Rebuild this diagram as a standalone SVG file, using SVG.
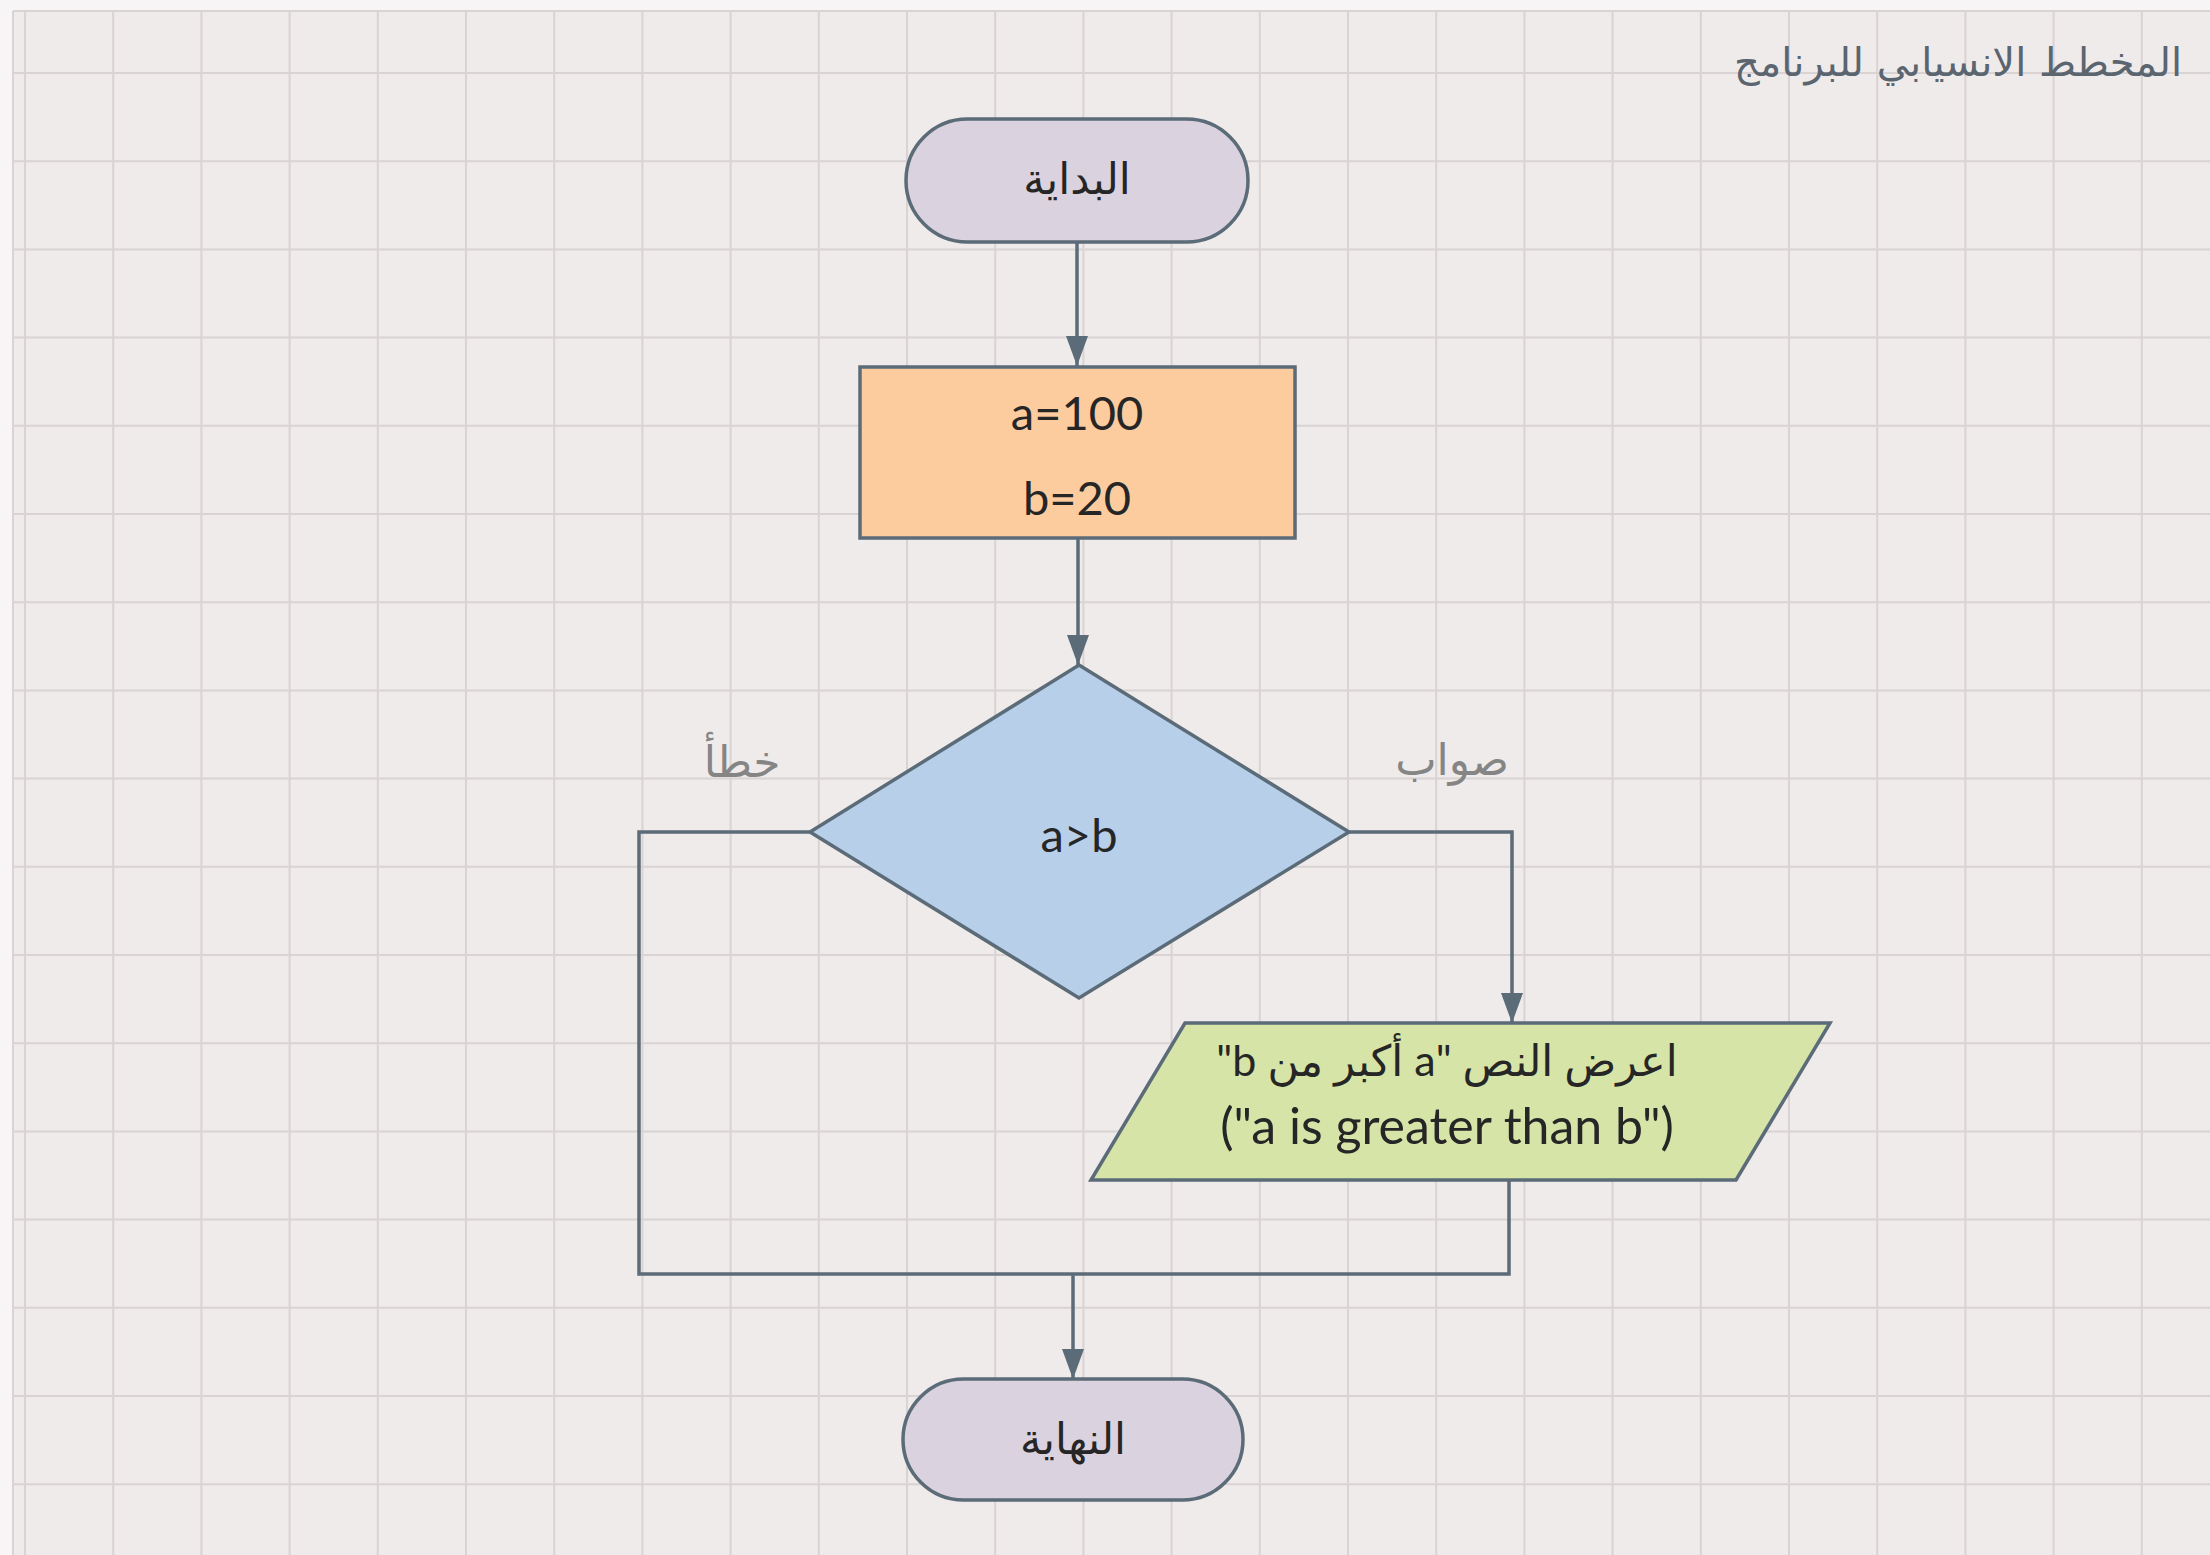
<svg xmlns="http://www.w3.org/2000/svg" width="2210" height="1555" viewBox="0 0 2210 1555">
<style>
.grid{stroke:#d9d3d3;stroke-width:2;fill:none}
.node{stroke:#5b6b78;stroke-width:3.5}
.conn{stroke:#5b6b78;stroke-width:3.5;fill:none}
.lat{font-family:Lato,"Liberation Sans","DejaVu Sans",sans-serif;fill:#262626;text-anchor:middle}
.ar{font-family:"DejaVu Sans","Noto Sans",sans-serif;fill:#262626;text-anchor:middle;direction:rtl;unicode-bidi:embed}
.lbl{font-family:"DejaVu Sans","Noto Sans",sans-serif;fill:#858585;text-anchor:middle;font-size:44px;direction:rtl;unicode-bidi:embed}
</style>
<defs>
<marker id="arr" markerUnits="userSpaceOnUse" markerWidth="32" markerHeight="22" refX="30" refY="11" orient="auto">
<path d="M0,0 L30,11 L0,22 Z" fill="#5b6b78"/>
</marker>
</defs>
<rect x="0" y="0" width="2210" height="1555" fill="#f7f5f5"/>
<rect x="13" y="11" width="2197" height="1544" fill="#efebea"/>
<g id="grid">
<path class="grid" d="M13,11V1555 M25,11V1555 M113.2,11V1555 M201.4,11V1555 M289.6,11V1555 M377.8,11V1555 M466,11V1555 M554.2,11V1555 M642.4,11V1555 M730.6,11V1555 M818.8,11V1555 M907,11V1555 M995.2,11V1555 M1083.4,11V1555 M1171.6,11V1555 M1259.8,11V1555 M1348,11V1555 M1436.2,11V1555 M1524.4,11V1555 M1612.6,11V1555 M1700.8,11V1555 M1789,11V1555 M1877.2,11V1555 M1965.4,11V1555 M2053.6,11V1555 M2141.8,11V1555"/>
<path class="grid" d="M13,11H2210 M13,73H2210 M13,161.2H2210 M13,249.4H2210 M13,337.6H2210 M13,425.8H2210 M13,514H2210 M13,602.2H2210 M13,690.4H2210 M13,778.6H2210 M13,866.8H2210 M13,955H2210 M13,1043.2H2210 M13,1131.4H2210 M13,1219.6H2210 M13,1307.8H2210 M13,1396H2210 M13,1484.2H2210"/>
</g>
<g id="title">
<text x="2182" y="76" font-family="'DejaVu Sans',sans-serif" font-size="40" fill="#5a6570" text-anchor="start" style="direction:rtl;unicode-bidi:embed">المخطط الانسيابي للبرنامج</text>
</g>
<g id="connectors">
<path class="conn" d="M1077,242 V366" marker-end="url(#arr)"/>
<path class="conn" d="M1078,538 V665" marker-end="url(#arr)"/>
<path class="conn" d="M1349,832 H1512 V1023" marker-end="url(#arr)"/>
<path class="conn" d="M810,832 H639 V1274 H1509 V1180"/>
<path class="conn" d="M1073,1274 V1379" marker-end="url(#arr)"/>
</g>
<g id="start">
<rect class="node" x="906" y="119" width="342" height="123" rx="61.5" fill="#dad3df"/>
<text class="ar" x="1077" y="194" font-size="43">البداية</text>
</g>
<g id="assign">
<rect class="node" x="860" y="367" width="435" height="171" fill="#fccc9f"/>
<text class="lat" x="1077" y="430" font-size="47">a=100</text>
<text class="lat" x="1077" y="515" font-size="47">b=20</text>
</g>
<g id="decision">
<polygon class="node" points="1079,665 1349,832 1079,998 810,832" fill="#b8cfea"/>
<text class="lat" x="1079" y="852" font-size="47">a&gt;b</text>
</g>
<g id="labels">
<text class="lbl" x="1452" y="775">صواب</text>
<text class="lbl" x="742" y="777">خطأ</text>
</g>
<g id="output">
<polygon class="node" points="1185,1023 1830,1023 1736,1180 1091,1180" fill="#d6e4a7"/>
<text class="ar" x="1447" y="1076" font-size="43" style="font-family:Lato,'DejaVu Sans',sans-serif">اعرض النص "a أكبر من b"</text>
<text class="lat" x="1447" y="1144" font-size="50">("a is greater than b")</text>
</g>
<g id="end">
<rect class="node" x="903" y="1379" width="340" height="121" rx="60.5" fill="#dad3df"/>
<text class="ar" x="1073" y="1454" font-size="43">النهاية</text>
</g>
</svg>
